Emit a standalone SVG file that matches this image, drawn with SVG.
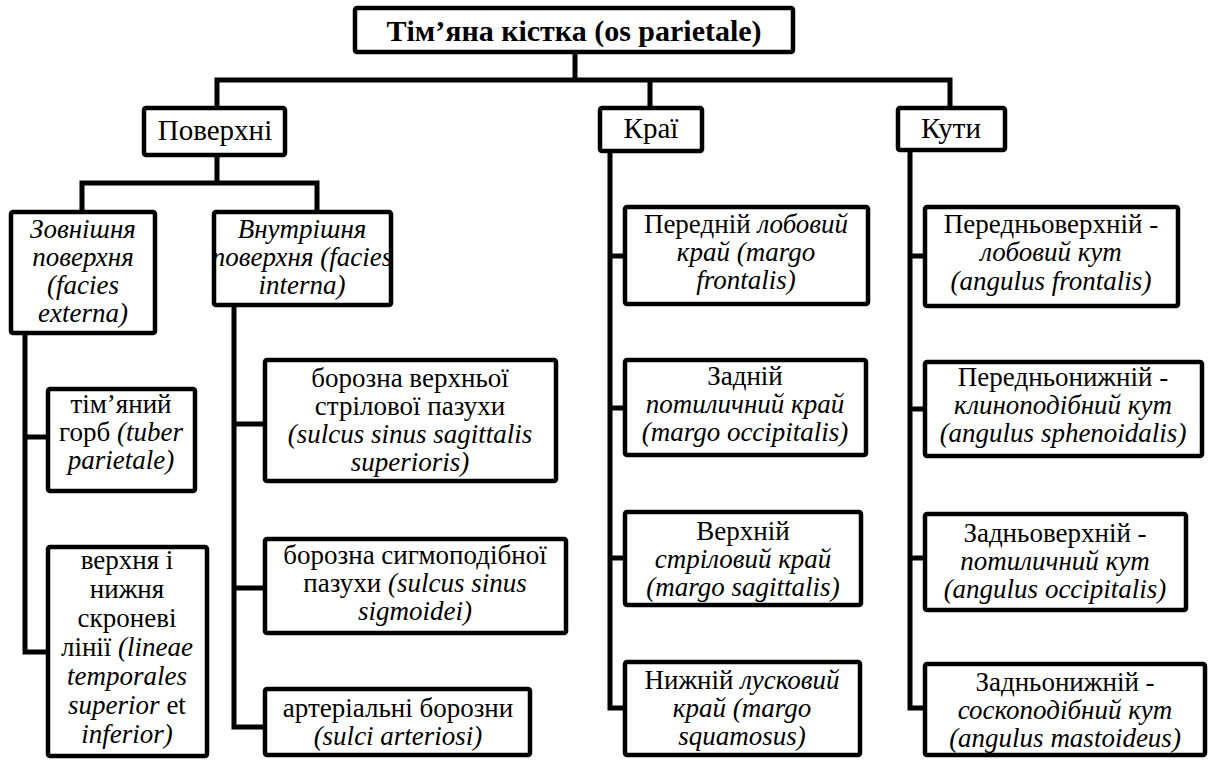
<svg xmlns="http://www.w3.org/2000/svg" width="1208" height="760" viewBox="0 0 1208 760">
<style>
.bg{fill:#fff}
.box{fill:#fff;stroke:#000;stroke-width:4.5;stroke-linejoin:round}
.c{fill:none;stroke:#000;stroke-width:5;stroke-linejoin:miter;stroke-linecap:square}
.t{font-family:'Liberation Serif',serif;font-size:27px;text-anchor:middle;fill:#000}
.h{font-size:29px}
.title{font-weight:bold;font-size:30px}
.i{font-style:italic}
</style>
<rect class="bg" x="0" y="0" width="1208" height="760"/>
<g id="connectors">
<path class="c" d="M575,54 V80 M217,80 H950 M217,80 V106 M650,80 V106 M950,80 V106"/>
<path class="c" d="M217,157 V183 M82,183 H317 M82,183 V210 M317,183 V210"/>
<path class="c" d="M25,335 V652 H46 M25,437 H46"/>
<path class="c" d="M234,307 V727 H263 M234,424 H263 M234,588 H263"/>
<path class="c" d="M610,153 V708 H623 M610,256 H623 M610,408 H623 M610,558 H623"/>
<path class="c" d="M910,152 V708 H923 M910,256 H923 M910,409 H923 M910,558 H923"/>
</g>
<g id="root">
<rect class="box" x="355" y="8" width="438" height="44" rx="2"/>
<text class="t title" x="574" y="41">Тім’яна кістка (os parietale)</text>
</g>
<g id="poverkhni">
<rect class="box" x="144" y="108" width="141" height="47" rx="2"/>
<text class="t h" x="215" y="140">Поверхні</text>
</g>
<g id="krai">
<rect class="box" x="600" y="108" width="102" height="43" rx="2"/>
<text class="t h" x="651" y="138">Краї</text>
</g>
<g id="kuty">
<rect class="box" x="898" y="108" width="107" height="42" rx="2"/>
<text class="t h" x="951" y="138">Кути</text>
</g>
<g id="zovnishnia">
<rect class="box" x="11" y="212" width="144" height="121" rx="2"/>
<text class="t i" x="83"><tspan x="83" y="238">Зовнішня</tspan><tspan x="83" y="266">поверхня</tspan><tspan x="83" y="294">(facies</tspan><tspan x="83" y="322">externa)</tspan></text>
</g>
<g id="vnutrishnia">
<rect class="box" x="214" y="212" width="177" height="93" rx="2"/>
<text class="t i" x="302"><tspan x="302" y="238">Внутрішня</tspan><tspan x="302" y="266">поверхня (facies</tspan><tspan x="302" y="294">interna)</tspan></text>
</g>
<g id="tuber">
<rect class="box" x="48" y="389" width="147" height="102" rx="2"/>
<text class="t" x="121"><tspan x="121" y="413">тім’яний</tspan><tspan x="121" y="441">горб <tspan class="i">(tuber</tspan></tspan><tspan x="121" y="469" class="i">parietale)</tspan></text>
</g>
<g id="lineae">
<rect class="box" x="48" y="547" width="159" height="209" rx="2"/>
<text class="t" x="127"><tspan x="127" y="569">верхня і</tspan><tspan x="127" y="598">нижня</tspan><tspan x="127" y="627">скроневі</tspan><tspan x="127" y="656">лінії <tspan class="i">(lineae</tspan></tspan><tspan x="127" y="685" class="i">temporales</tspan><tspan x="127" y="714"><tspan class="i">superior</tspan> et</tspan><tspan x="127" y="743" class="i">inferior)</tspan></text>
</g>
<g id="sulcus-sagittalis">
<rect class="box" x="265" y="360" width="291" height="121" rx="2"/>
<text class="t" x="410"><tspan x="410" y="387">борозна верхньої</tspan><tspan x="410" y="415">стрілової пазухи</tspan><tspan x="410" y="443" class="i">(sulcus sinus sagittalis</tspan><tspan x="410" y="471" class="i">superioris)</tspan></text>
</g>
<g id="sulcus-sigmoidei">
<rect class="box" x="265" y="539" width="301" height="94" rx="2"/>
<text class="t" x="415"><tspan x="415" y="564">борозна сигмоподібної</tspan><tspan x="415" y="592">пазухи <tspan class="i">(sulcus sinus</tspan></tspan><tspan x="415" y="620" class="i">sigmoidei)</tspan></text>
</g>
<g id="sulci-arteriosi">
<rect class="box" x="265" y="689" width="265" height="66" rx="2"/>
<text class="t" x="398"><tspan x="398" y="717">артеріальні борозни</tspan><tspan x="398" y="745" class="i">(sulci arteriosi)</tspan></text>
</g>
<g id="margo-frontalis">
<rect class="box" x="625" y="207" width="243" height="97" rx="2"/>
<text class="t" x="746"><tspan x="746" y="233">Передній <tspan class="i">лобовий</tspan></tspan><tspan x="746" y="261" class="i">край (margo</tspan><tspan x="746" y="289" class="i">frontalis)</tspan></text>
</g>
<g id="margo-occipitalis">
<rect class="box" x="625" y="360" width="241" height="95" rx="2"/>
<text class="t" x="745"><tspan x="745" y="385">Задній</tspan><tspan x="745" y="413" class="i">потиличний край</tspan><tspan x="745" y="441" class="i">(margo occipitalis)</tspan></text>
</g>
<g id="margo-sagittalis">
<rect class="box" x="625" y="512" width="236" height="93" rx="2"/>
<text class="t" x="743"><tspan x="743" y="540">Верхній</tspan><tspan x="743" y="568" class="i">стріловий край</tspan><tspan x="743" y="596" class="i">(margo sagittalis)</tspan></text>
</g>
<g id="margo-squamosus">
<rect class="box" x="625" y="662" width="235" height="93" rx="2"/>
<text class="t" x="742"><tspan x="742" y="689">Нижній <tspan class="i">лусковий</tspan></tspan><tspan x="742" y="717" class="i">край (margo</tspan><tspan x="742" y="745" class="i">squamosus)</tspan></text>
</g>
<g id="angulus-frontalis">
<rect class="box" x="925" y="207" width="253" height="99" rx="2"/>
<text class="t" x="1051"><tspan x="1051" y="233">Передньоверхній -</tspan><tspan x="1051" y="261" class="i">лобовий кут</tspan><tspan x="1051" y="290" class="i">(angulus frontalis)</tspan></text>
</g>
<g id="angulus-sphenoidalis">
<rect class="box" x="925" y="362" width="277" height="94" rx="2"/>
<text class="t" x="1063"><tspan x="1063" y="386">Передньонижній -</tspan><tspan x="1063" y="414" class="i">клиноподібний кут</tspan><tspan x="1063" y="442" class="i">(angulus sphenoidalis)</tspan></text>
</g>
<g id="angulus-occipitalis">
<rect class="box" x="925" y="514" width="261" height="96" rx="2"/>
<text class="t" x="1055"><tspan x="1055" y="542">Задньоверхній -</tspan><tspan x="1055" y="570" class="i">потиличний кут</tspan><tspan x="1055" y="598" class="i">(angulus occipitalis)</tspan></text>
</g>
<g id="angulus-mastoideus">
<rect class="box" x="925" y="664" width="280" height="91" rx="2"/>
<text class="t" x="1065"><tspan x="1065" y="691">Задньонижній -</tspan><tspan x="1065" y="719" class="i">соскоподібний кут</tspan><tspan x="1065" y="747" class="i">(angulus mastoideus)</tspan></text>
</g>
</svg>
